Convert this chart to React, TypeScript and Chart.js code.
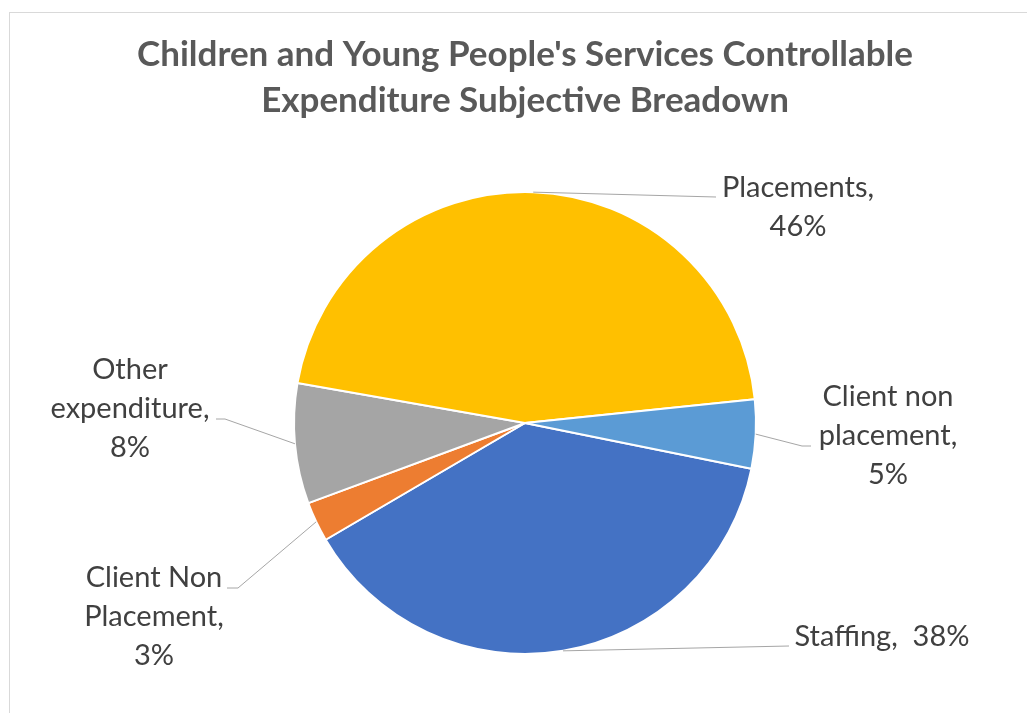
import React, { useEffect, useRef } from 'react';
import { Chart, registerables } from 'chart.js';

Chart.register(...registerables);

const titleLines = ["Children and Young People's Services Controllable", 'Expenditure Subjective Breadown'];
const categories = ['Staffing', 'Client Non Placement', 'Other expenditure', 'Placements', 'Client non placement'];
const values = [38.4, 2.8, 8.4, 45.6, 4.8];
const colors = ['#4472C4', '#ED7D31', '#A5A5A5', '#FFC000', '#5B9BD5'];
// label wrapping ({p} = percentage)
const labelWrap = [
  ['Staffing,  {p}'],
  ['Client Non', 'Placement,', '{p}'],
  ['Other', 'expenditure,', '{p}'],
  ['Placements,', '{p}'],
  ['Client non', 'placement,', '{p}'],
];
// layout: offsets in px from pie centre: text centre, leader end, optional elbow
const labelLayout = [
  { tx: 357, ty: 214, ex: 264, ey: 223, el: null as null | [number, number] },
  { tx: -371, ty: 194, ex: -298, ey: 165, el: [-287, 165] as [number, number] },
  { tx: -395, ty: -14, ex: -309, ey: -4, el: [-300, -4] as [number, number] },
  { tx: 273, ty: -216, ex: 191, ey: -226, el: null },
  { tx: 363, ty: 13, ex: 286, ey: 23, el: [277, 23] as [number, number] },
];

const FONT = 'Lato, "Open Sans", sans-serif';

const decorPlugin = {
  id: 'decor',
  beforeDraw(chart: any) {
    const ctx = chart.ctx;
    ctx.save();
    ctx.fillStyle = '#ffffff';
    ctx.fillRect(0, 0, chart.width, chart.height);
    ctx.strokeStyle = '#D9D9D9';
    ctx.lineWidth = 1;
    ctx.strokeRect(1.5, 4.5, chart.width + 10, chart.height + 10);
    ctx.restore();
  },
  afterDraw(chart: any) {
    const ctx = chart.ctx;
    ctx.save();
    // title
    ctx.fillStyle = '#595959';
    ctx.font = `bold 35px ${FONT}`;
    ctx.textAlign = 'center';
    ctx.textBaseline = 'middle';
    titleLines.forEach((t, i) => ctx.fillText(t, 517, 47 + i * 46));

    const meta = chart.getDatasetMeta(0);
    const total = values.reduce((a, b) => a + b, 0);
    meta.data.forEach((arc: any, i: number) => {
      const { x, y, startAngle, endAngle, outerRadius } = arc.getProps(['x', 'y', 'startAngle', 'endAngle', 'outerRadius'], true);
      const mid = (startAngle + endAngle) / 2;
      const sx = x + Math.cos(mid) * outerRadius;
      const sy = y + Math.sin(mid) * outerRadius;
      const L = labelLayout[i];
      ctx.strokeStyle = '#A6A6A6';
      ctx.lineWidth = 1;
      ctx.beginPath();
      ctx.moveTo(sx, sy);
      if (L.el) ctx.lineTo(x + L.el[0], y + L.el[1]);
      ctx.lineTo(x + L.ex, y + L.ey);
      ctx.stroke();

      const pct = Math.round((values[i] / total) * 100) + '%';
      const lines = labelWrap[i].map((s) => s.replace('{p}', pct));
      ctx.fillStyle = '#404040';
      ctx.font = `29px ${FONT}`;
      ctx.textAlign = 'center';
      ctx.textBaseline = 'middle';
      const lh = 39;
      const top = y + L.ty - ((lines.length - 1) * lh) / 2;
      lines.forEach((ln, k) => ctx.fillText(ln, x + L.tx, top + k * lh));
    });
    ctx.restore();
  },
};

export default function App() {
  const ref = useRef<HTMLCanvasElement>(null);
  useEffect(() => {
    if (!ref.current) return;
    const chart = new Chart(ref.current, {
      type: 'pie',
      data: {
        labels: categories,
        datasets: [
          {
            data: values,
            backgroundColor: colors,
            borderColor: '#ffffff',
            borderWidth: 2,
          },
        ],
      },
      options: {
        animation: false,
        responsive: false,
        maintainAspectRatio: false,
        rotation: 101.4,
        layout: { padding: { top: 183, bottom: 58, left: 7, right: 0 } },
        plugins: {
          legend: { display: false },
          title: { display: false },
          tooltip: { enabled: false },
        },
      },
      plugins: [decorPlugin],
    });
    return () => chart.destroy();
  }, []);
  return (
    <div style={{ width: 1027, height: 705 }}>
      <canvas ref={ref} width={1027} height={705} style={{ display: 'block', width: 1027, height: 705 }} />
    </div>
  );
}
